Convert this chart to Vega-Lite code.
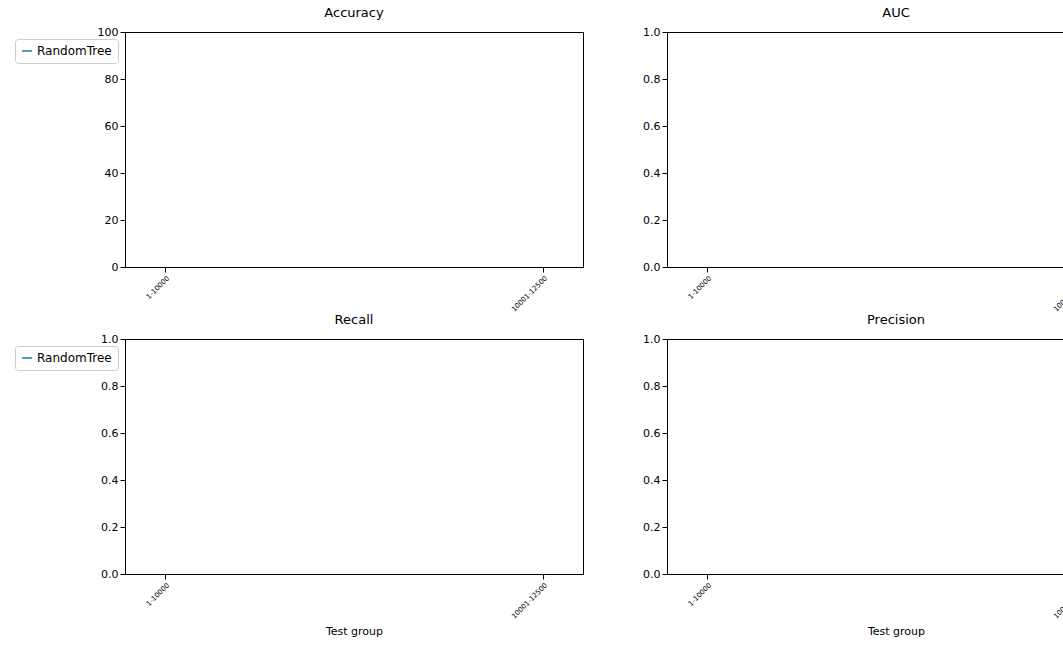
{
  "$schema": "https://vega.github.io/schema/vega-lite/v6.json",
  "background": "white",
  "padding": {"left": 14, "top": 6, "right": 5, "bottom": 5},
  "spacing": 0,
  "data": {"values": [
    {"group": "1-10000", "model": "RandomTree", "acc": null, "auc": null, "recall": null, "precision": null},
    {"group": "10001-12500", "model": "RandomTree", "acc": null, "auc": null, "recall": null, "precision": null}
  ]},
  "config": {
    "font": "DejaVu Sans",
    "view": {"stroke": "black", "strokeWidth": 1},
    "title": {"fontSize": 13, "fontWeight": "normal", "offset": 6},
    "axis": {"grid": false, "domainColor": "black", "tickColor": "black", "labelColor": "black", "labelFontSize": 11, "titleFontWeight": "normal", "titleFontSize": 11},
    "axisX": {"labelAngle": -45, "labelFontSize": 7, "labelAlign": "right", "labelBaseline": "top", "titlePadding": 6},
    "legend": {"orient": "top-right", "offset": 7, "strokeColor": "#cccccc", "fillColor": "white", "padding": 6, "cornerRadius": 3, "symbolType": "stroke", "symbolStrokeWidth": 1.5, "labelFontSize": 12, "title": null},
    "line": {"color": "#1f77b4"}
  },
  "vconcat": [
    {"hconcat": [
      {"title": "Accuracy", "width": 458, "height": 235, "mark": "line",
       "encoding": {
         "x": {"field": "group", "type": "ordinal", "scale": {"type": "point", "padding": 0.106}, "title": null},
         "y": {"field": "acc", "type": "quantitative", "scale": {"domain": [0, 100], "nice": false}, "axis": {"values": [0, 20, 40, 60, 80, 100]}, "title": null},
         "color": {"field": "model", "type": "nominal", "scale": {"domain": ["RandomTree"], "range": ["#1f77b4"]}}
       }},
      {"title": "AUC", "width": 458, "height": 235, "mark": "line",
       "encoding": {
         "x": {"field": "group", "type": "ordinal", "scale": {"type": "point", "padding": 0.106}, "title": null},
         "y": {"field": "auc", "type": "quantitative", "scale": {"domain": [0, 1], "nice": false}, "axis": {"values": [0, 0.2, 0.4, 0.6, 0.8, 1], "format": ".1f"}, "title": null},
         "color": {"field": "model", "type": "nominal", "scale": {"domain": ["RandomTree"], "range": ["#1f77b4"]}}
       }}
    ], "spacing": 58},
    {"hconcat": [
      {"title": "Recall", "width": 458, "height": 235, "mark": "line",
       "encoding": {
         "x": {"field": "group", "type": "ordinal", "scale": {"type": "point", "padding": 0.106}, "title": "Test group"},
         "y": {"field": "recall", "type": "quantitative", "scale": {"domain": [0, 1], "nice": false}, "axis": {"values": [0, 0.2, 0.4, 0.6, 0.8, 1], "format": ".1f"}, "title": null},
         "color": {"field": "model", "type": "nominal", "scale": {"domain": ["RandomTree"], "range": ["#1f77b4"]}}
       }},
      {"title": "Precision", "width": 458, "height": 235, "mark": "line",
       "encoding": {
         "x": {"field": "group", "type": "ordinal", "scale": {"type": "point", "padding": 0.106}, "title": "Test group"},
         "y": {"field": "precision", "type": "quantitative", "scale": {"domain": [0, 1], "nice": false}, "axis": {"values": [0, 0.2, 0.4, 0.6, 0.8, 1], "format": ".1f"}, "title": null},
         "color": {"field": "model", "type": "nominal", "scale": {"domain": ["RandomTree"], "range": ["#1f77b4"]}}
       }}
    ], "spacing": 58}
  ],
  "resolve": {"scale": {"color": "independent"}, "legend": {"color": "independent"}}
}
